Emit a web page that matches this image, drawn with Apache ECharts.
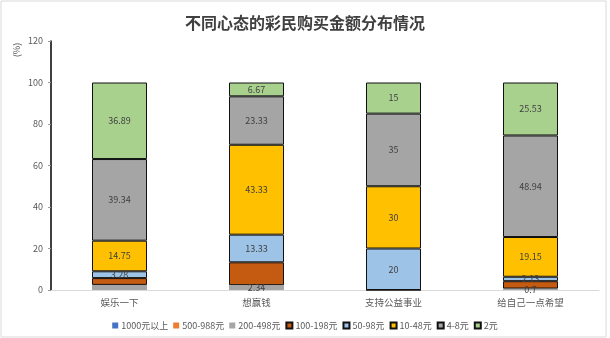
<!DOCTYPE html>
<html>
<head>
<meta charset="utf-8">
<script src="https://cdn.jsdelivr.net/npm/echarts@6/dist/echarts.min.js"></script>
<style>
  html, body { margin: 0; padding: 0; background: #fff; }
  #chart { width: 610px; height: 338px; }
</style>
</head>
<body>
<div id="chart"></div>
<script>
// 不同心态的彩民购买金额分布（%）
const categories = ['娱乐一下', '想赢钱', '支持公益事业', '给自己一点希望'];
const seriesNames = ['1000元以上', '500-988元', '200-498元', '100-198元', '50-98元', '10-48元', '4-8元', '2元'];

const v1000 = [0, 0, 0, 0];
const v500 = [0, 0, 0, 0];
const v200 = [2.46, 2.34, 0, 0.7];
const v100 = [3.28, 11.0, 0, 3.55];
const v50 = [3.28, 13.33, 20, 2.13];
const v10 = [14.75, 43.33, 30, 19.15];
const v4 = [39.34, 23.33, 35, 48.94];
const v2 = [36.89, 6.67, 15, 25.53];

const values = [v1000, v500, v200, v100, v50, v10, v4, v2];
const colors = ['#4472C4', '#ED7D31', '#A5A5A5', '#C55A11', '#9DC3E6', '#FFC000', '#A5A5A5', '#A9D18E'];
const bordered = [false, false, false, true, true, true, true, true];
// data labels that are left off in each series (by category index)
const hiddenLabels = [[0, 1, 2, 3], [0, 1, 2, 3], [0, 2], [0, 1, 2, 3], [], [], [], []];

const chart = echarts.init(document.getElementById('chart'));

const series = seriesNames.map((name, i) => ({
  name: name,
  type: 'bar',
  stack: 'total',
  barWidth: 55,
  data: values[i],
  itemStyle: {
    color: colors[i],
    borderColor: bordered[i] ? '#111' : colors[i],
    borderWidth: bordered[i] ? 1 : 0
  },
  label: {
    show: true,
    position: 'inside',
    fontSize: 9,
    color: '#404040',
    fontFamily: 'Noto Sans CJK SC',
    formatter: p => (hiddenLabels[i].includes(p.dataIndex) || p.value === 0) ? '' : String(p.value)
  }
}));

chart.setOption({
  animation: false,
  title: {
    text: '不同心态的彩民购买金额分布情况',
    left: 'center',
    top: 10,
    textStyle: { fontSize: 16, fontWeight: 'bold', color: '#404040', fontFamily: 'Noto Sans CJK SC' }
  },
  grid: { left: 51, right: 11, top: 41, bottom: 48 },
  legend: {
    data: seriesNames,
    top: 316,
    left: 'center',
    icon: 'rect',
    itemWidth: 6,
    itemHeight: 6,
    itemGap: 5,
    textStyle: { fontSize: 9, color: '#595959', fontFamily: 'Noto Sans CJK SC', padding: [0, 0, 0, -2] }
  },
  xAxis: {
    type: 'category',
    data: categories,
    axisLine: { lineStyle: { color: '#D9D9D9' } },
    axisTick: { show: false },
    axisLabel: { fontSize: 9.5, color: '#595959', margin: 8, fontFamily: 'Noto Sans CJK SC' }
  },
  yAxis: {
    type: 'value',
    min: 0,
    max: 120,
    interval: 20,
    axisLine: { show: true, lineStyle: { color: '#000', width: 1.5 } },
    axisTick: { show: true, length: 3, lineStyle: { color: '#999' } },
    splitLine: { show: false },
    axisLabel: { fontSize: 9, color: '#595959', margin: 8, fontFamily: 'Noto Sans CJK SC' }
  },
  graphic: [
    {
      type: 'rect',
      shape: { x: 1, y: 1, width: 605, height: 336 },
      style: { fill: 'none', stroke: '#D9D9D9', lineWidth: 1 },
      silent: true
    },
    {
      type: 'text',
      x: 17,
      y: 50,
      rotation: Math.PI / 2,
      style: {
        text: '(%)',
        fontSize: 9,
        fill: '#595959',
        fontFamily: 'Noto Sans CJK SC',
        align: 'center',
        verticalAlign: 'middle'
      }
    }
  ],
  series: series
});
</script>
</body>
</html>
